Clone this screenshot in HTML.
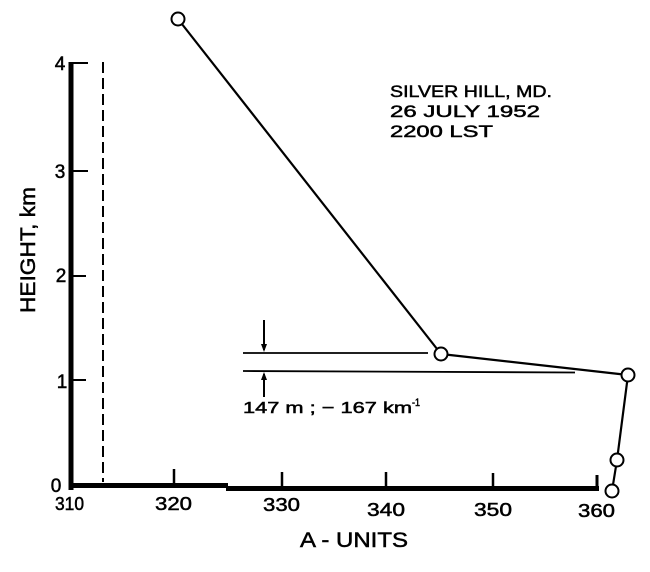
<!DOCTYPE html>
<html>
<head>
<meta charset="utf-8">
<style>
  html, body { margin: 0; padding: 0; background: #fff; }
  svg { display: block; }
  text { font-family: "Liberation Sans", "DejaVu Sans", sans-serif; fill: #000; stroke: #000; stroke-width: 0.5; }
</style>
</head>
<body>
<svg width="650" height="572" viewBox="0 0 650 572" xmlns="http://www.w3.org/2000/svg">
  <rect width="650" height="572" fill="#fff"/>

  <!-- Y axis -->
  <line x1="71" y1="62" x2="71" y2="490" stroke="#000" stroke-width="5"/>
  <!-- Y ticks -->
  <line x1="73" y1="63" x2="88" y2="63" stroke="#000" stroke-width="2"/>
  <line x1="73" y1="171" x2="88" y2="171" stroke="#000" stroke-width="2"/>
  <line x1="73" y1="276" x2="86" y2="276" stroke="#000" stroke-width="2"/>
  <line x1="73" y1="380" x2="86" y2="380" stroke="#000" stroke-width="2"/>

  <!-- X axis (two segments, slight step) -->
  <line x1="69" y1="485.5" x2="228" y2="485.5" stroke="#000" stroke-width="5"/>
  <line x1="226" y1="488.5" x2="599" y2="488.5" stroke="#000" stroke-width="5"/>
  <!-- X ticks -->
  <line x1="174" y1="469" x2="174" y2="486" stroke="#000" stroke-width="2.5"/>
  <line x1="282" y1="472" x2="282" y2="488" stroke="#000" stroke-width="2.5"/>
  <line x1="386" y1="472" x2="386" y2="488" stroke="#000" stroke-width="2.5"/>
  <line x1="493" y1="473" x2="493" y2="488" stroke="#000" stroke-width="2.5"/>
  <line x1="597" y1="475" x2="597" y2="490" stroke="#000" stroke-width="3"/>

  <!-- dashed reference line -->
  <line x1="103" y1="62" x2="103" y2="482" stroke="#000" stroke-width="2" stroke-dasharray="11 5"/>

  <!-- Y tick labels -->
  <text x="60" y="70" font-size="19" text-anchor="middle">4</text>
  <text x="60" y="178" font-size="19" text-anchor="middle">3</text>
  <text x="61" y="282" font-size="19" text-anchor="middle">2</text>
  <text x="62" y="388" font-size="19" text-anchor="middle">1</text>
  <text x="56" y="492" font-size="19" text-anchor="middle">0</text>

  <!-- X tick labels -->
  <text x="55" y="510" font-size="18" textLength="29" lengthAdjust="spacingAndGlyphs">310</text>
  <text x="155" y="510" font-size="18" textLength="37" lengthAdjust="spacingAndGlyphs">320</text>
  <text x="263" y="511" font-size="18" textLength="37" lengthAdjust="spacingAndGlyphs">330</text>
  <text x="367" y="516" font-size="18" textLength="38" lengthAdjust="spacingAndGlyphs">340</text>
  <text x="474" y="516" font-size="18" textLength="38" lengthAdjust="spacingAndGlyphs">350</text>
  <text x="578" y="517" font-size="18" textLength="37" lengthAdjust="spacingAndGlyphs">360</text>

  <!-- Axis labels -->
  <text x="300" y="547" font-size="21" textLength="108" lengthAdjust="spacingAndGlyphs">A - UNITS</text>
  <text transform="translate(35,250) rotate(-90)" font-size="21" text-anchor="middle" textLength="126" lengthAdjust="spacingAndGlyphs">HEIGHT, km</text>

  <!-- Title annotation -->
  <text x="390" y="97" font-size="17" textLength="162" lengthAdjust="spacingAndGlyphs">SILVER HILL, MD.</text>
  <text x="390" y="117" font-size="17" textLength="150" lengthAdjust="spacingAndGlyphs">26 JULY 1952</text>
  <text x="390" y="137" font-size="17" textLength="103" lengthAdjust="spacingAndGlyphs">2200 LST</text>

  <!-- Horizontal layer lines -->
  <line x1="243" y1="353" x2="428" y2="353" stroke="#000" stroke-width="1.8"/>
  <line x1="243" y1="371" x2="575" y2="372.5" stroke="#000" stroke-width="1.8"/>

  <!-- arrows -->
  <line x1="264" y1="320" x2="264" y2="350" stroke="#000" stroke-width="2"/>
  <polygon points="261,344 267,344 264,352" fill="#000"/>
  <line x1="264" y1="374" x2="264" y2="397" stroke="#000" stroke-width="2"/>
  <polygon points="261,380 267,380 264,372" fill="#000"/>

  <!-- layer annotation -->
  <text x="243" y="413" font-size="16" textLength="169" lengthAdjust="spacingAndGlyphs">147 m ; − 167  km</text>
  <text x="412" y="406" font-size="11" textLength="8" lengthAdjust="spacingAndGlyphs">-1</text>

  <!-- Data series -->
  <polyline points="178,19 441,354 628,375 617,460 612,491" fill="none" stroke="#000" stroke-width="2.2" stroke-linejoin="round"/>
  <g fill="#fff" stroke="#000" stroke-width="2">
    <circle cx="178" cy="19" r="6.5"/>
    <circle cx="441" cy="354" r="6.5"/>
    <circle cx="628" cy="375" r="6.5"/>
    <circle cx="617" cy="460" r="6.5"/>
    <circle cx="612" cy="491" r="6.5"/>
  </g>
</svg>
</body>
</html>
